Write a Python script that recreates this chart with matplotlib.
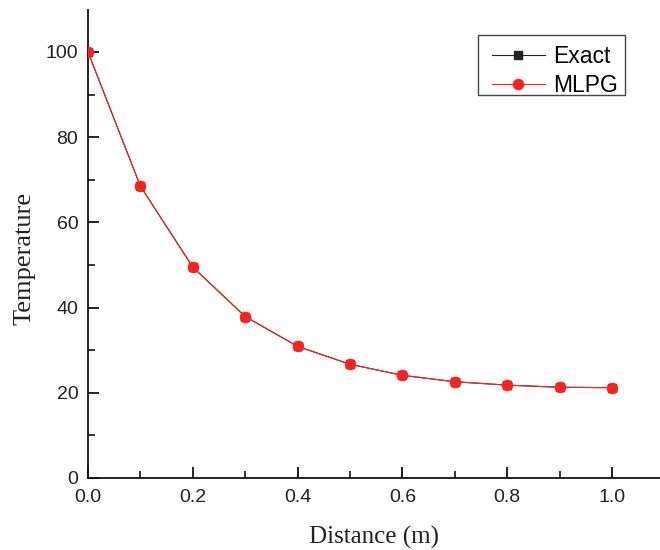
import matplotlib
matplotlib.use("Agg")
import matplotlib.pyplot as plt
from matplotlib.patches import Rectangle
from matplotlib.ticker import MultipleLocator

distance = [0.0, 0.1, 0.2, 0.3, 0.4, 0.5, 0.6, 0.7, 0.8, 0.9, 1.0]
exact = [100.0, 68.5, 49.5, 37.9, 30.9, 26.7, 24.1, 22.6, 21.8, 21.3, 21.2]
mlpg = [100.0, 68.5, 49.5, 37.9, 30.9, 26.7, 24.1, 22.6, 21.8, 21.3, 21.2]

SANS = "Liberation Sans"
SERIF = "Liberation Serif"

fig = plt.figure(figsize=(6.6, 5.5), dpi=100)
ax = fig.add_axes([88 / 660, 72 / 550, 572 / 660, 468 / 550])

ax.plot(distance, exact, color="#222222", lw=0.8, marker="s", ms=6.0,
        markerfacecolor="#222222", markeredgecolor="#222222", label="Exact", zorder=3)
ax.plot(distance, mlpg, color="#ff2020", lw=0.8, marker="o", ms=7.3,
        markerfacecolor="#ff2020", markeredgecolor="#ff2020", label="MLPG", zorder=4)

ax.set_xlim(0, 572 / 524)
ax.set_ylim(0, 468 / 4.26)
ax.xaxis.set_major_locator(MultipleLocator(0.2))
ax.xaxis.set_minor_locator(MultipleLocator(0.1))
ax.yaxis.set_major_locator(MultipleLocator(20))
ax.yaxis.set_minor_locator(MultipleLocator(10))

for side in ("top", "right"):
    ax.spines[side].set_visible(False)
for side in ("left", "bottom"):
    ax.spines[side].set_linewidth(1.3)
    ax.spines[side].set_color("#111111")

ax.tick_params(which="major", direction="in", length=8, width=1.3, colors="#111111",
               labelsize=14, pad=7)
ax.tick_params(axis="x", which="major", pad=8)
ax.tick_params(which="minor", direction="in", length=5, width=1.2, colors="#111111")
for lbl in ax.get_xticklabels() + ax.get_yticklabels():
    lbl.set_family(SANS)
    lbl.set_color("#222222")

ax.set_xlabel("Distance (m)", family=SERIF, fontsize=18, color="#222222", labelpad=14)
ax.set_ylabel("Temperature", family=SERIF, fontsize=19, color="#222222")
# label sits a little below the middle of the axis
ax.yaxis.set_label_coords(-52 / 572, 0.47)

# legend entries without their own frame; the box is drawn separately so the
# side padding can be wider than the top/bottom padding
ax.legend(loc="upper left", bbox_to_anchor=(404 / 572, 0.9256), prop={"family": SANS, "size": 16.5},
          frameon=False, handlelength=2.3, borderpad=0, labelspacing=0.27,
          handletextpad=0.35, borderaxespad=0)
ax.add_patch(Rectangle((390 / 572, 383 / 468), 147 / 572, 60 / 468, transform=ax.transAxes,
                       fill=False, edgecolor="#444444", lw=1.0, zorder=5, clip_on=False))

fig.savefig("out.png", dpi=100)
